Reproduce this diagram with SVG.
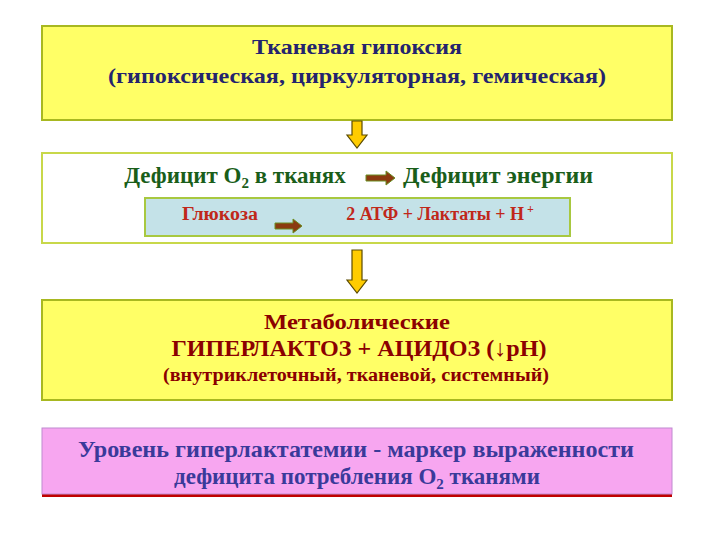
<svg xmlns="http://www.w3.org/2000/svg" width="720" height="540" viewBox="0 0 720 540">
<defs>
<style>
.t{font-family:"Liberation Serif","Times New Roman",serif;font-weight:bold;text-anchor:middle}
.yb{fill:#ffff66;stroke:#a8b820;stroke-width:2}
.ya{fill:#ffcc00;stroke:#5a4a00;stroke-width:1.2}
.ba{fill:#8b3a10;stroke:#6b8e23;stroke-width:1}
</style>
</defs>
<rect width="720" height="540" fill="#ffffff"/>
<g id="n1">
<rect class="yb" x="42" y="26" width="630" height="94"/>
<text class="t" x="357" y="54" font-size="22" fill="#24246e" textLength="210" lengthAdjust="spacingAndGlyphs">Тканевая гипоксия</text>
<text class="t" x="357" y="83" font-size="22" fill="#24246e" textLength="498" lengthAdjust="spacingAndGlyphs">(гипоксическая, циркуляторная, гемическая)</text>
</g>
<g id="n2">
<rect x="42" y="153" width="630" height="90" fill="#fff" stroke="#c8d84a" stroke-width="2"/>
<text class="t" x="235" y="183" font-size="23" fill="#1a5e1a">Дефицит O<tspan font-size="15" dy="5">2</tspan><tspan dy="-5"> в тканях</tspan></text>
<text class="t" x="498" y="183" font-size="23" fill="#1a5e1a" textLength="190" lengthAdjust="spacingAndGlyphs">Дефицит энергии</text>
<path class="ba" d="M366 175h20v-4l9 7-9 7v-4h-20z"/>
</g>
<g id="n3">
<rect x="145" y="198" width="425" height="38" fill="#c4e2e8" stroke="#a8c840" stroke-width="2"/>
<text class="t" x="220" y="220" font-size="18" fill="#c0281a" textLength="76" lengthAdjust="spacingAndGlyphs">Глюкоза</text>
<text class="t" x="440" y="220" font-size="18" fill="#c0281a">2 АТФ + Лактаты + Н<tspan font-size="12" dy="-7"> +</tspan></text>
<path class="ba" d="M275 223h18v-4l9 7-9 7v-4h-18z"/>
</g>
<g id="n4">
<rect class="yb" x="42" y="300" width="630" height="100"/>
<text class="t" x="357" y="329" font-size="22" fill="#8b0000" textLength="186" lengthAdjust="spacingAndGlyphs">Метаболические</text>
<text class="t" x="359" y="356" font-size="23" fill="#8b0000" textLength="375" lengthAdjust="spacingAndGlyphs">ГИПЕРЛАКТОЗ + АЦИДОЗ (↓рН)</text>
<text class="t" x="356" y="381" font-size="18" fill="#8b0000" textLength="386" lengthAdjust="spacingAndGlyphs">(внутриклеточный, тканевой, системный)</text>
</g>
<g id="n5">
<rect x="42" y="431" width="630" height="66" fill="#c00000"/>
<rect x="42" y="428" width="630" height="66" fill="#f7a6f0" stroke="#c08ad0" stroke-width="1"/>
<text class="t" x="356" y="457" font-size="23" fill="#3a3a9a" textLength="556" lengthAdjust="spacingAndGlyphs">Уровень гиперлактатемии - маркер выраженности</text>
<text class="t" x="357" y="484" font-size="23" fill="#3a3a9a">дефицита потребления O<tspan font-size="15" dy="5">2</tspan><tspan dy="-5"> тканями</tspan></text>
</g>
<g id="connectors">
<path class="ya" d="M352 121h10v14h5l-10 13-10-13h5z"/>
<path class="ya" d="M352 250h10v30h5l-10 13-10-13h5z"/>
</g>
</svg>
